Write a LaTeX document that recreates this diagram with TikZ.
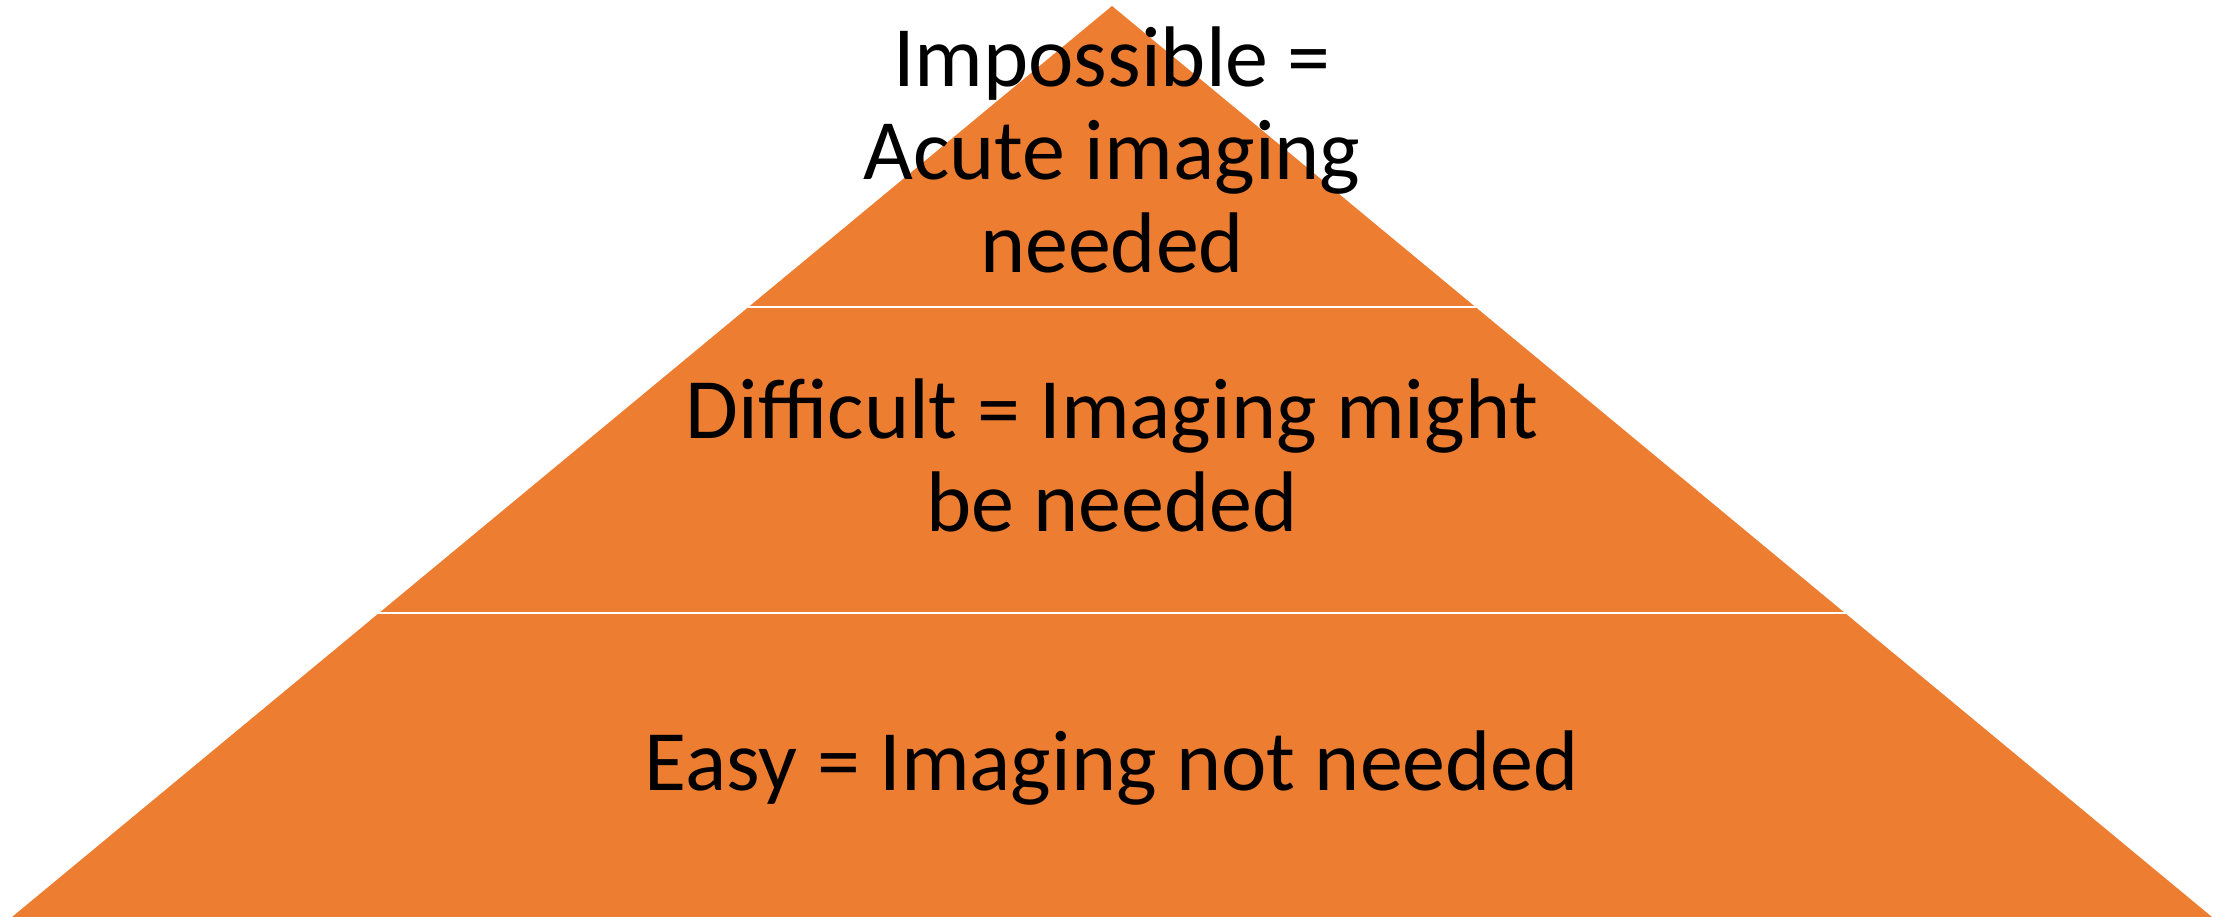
\documentclass[tikz,border=0pt]{standalone}
\usepackage{fontspec}
\setmainfont{Carlito}
\definecolor{tierorange}{HTML}{ED7D31}
\begin{document}
\begin{tikzpicture}[x=1pt,y=-1pt,
  tier/.style={fill=tierorange,draw=white,line width=2pt,line join=miter},
  tiertext/.style={anchor=base,align=center,inner sep=0pt,text=black,
    font=\fontsize{86}{93}\selectfont}]
\useasboundingbox (0,0) rectangle (2231,917);
\coordinate (apex) at (1112,6);
\coordinate (bl) at (12,917);
\coordinate (br) at (2212,917);
\coordinate (l1) at (747.5,307.5);
\coordinate (r1) at (1476.5,307.5);
\coordinate (l2) at (378.3,613);
\coordinate (r2) at (1845.7,613);
\fill[tierorange] (apex) -- (br) -- (bl) -- cycle;
\draw[white,line width=2pt] (l1) -- (r1);
\draw[white,line width=2pt] (l2) -- (r2);
\node[tiertext] (top) at (1112,273) {Impossible =\\Acute imaging\\needed};
\node[tiertext] (mid) at (1112,531) {Difficult = Imaging might\\be needed};
\node[tiertext] (bot) at (1112,790) {Easy = Imaging not needed};
\end{tikzpicture}
\end{document}
